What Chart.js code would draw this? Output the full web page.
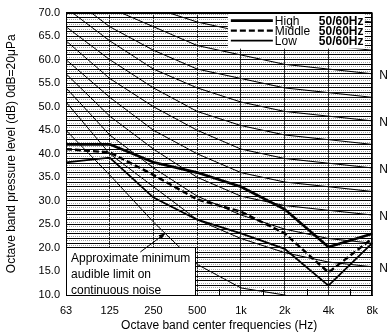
<!DOCTYPE html>
<html>
<head>
<meta charset="utf-8">
<script src="https://cdn.jsdelivr.net/npm/chart.js@4.4.0/dist/chart.umd.min.js"></script>
<style>
  html, body { margin: 0; padding: 0; background: #fff; }
</style>
</head>
<body>
<canvas id="ncChart" width="387" height="336"></canvas>
<script>
// octave band centres (x axis)
const freqLabels = ['63', '125', '250', '500', '1k', '2k', '4k', '8k'];
// NC reference curves
const ncNames = ['NC-20', 'NC-25', 'NC-30', 'NC-35', 'NC-40', 'NC-45', 'NC-50', 'NC-55', 'NC-60', 'NC-65', 'NC-70'];
const nc20 = [51, 40, 33, 26, 22, 19, 17, 16];
const nc25 = [54, 44, 37, 31, 27, 24, 22, 21];
const nc30 = [57, 48, 41, 35, 31, 29, 28, 27];
const nc35 = [60, 52, 45, 40, 36, 34, 33, 32];
const nc40 = [64, 56, 50, 45, 41, 39, 38, 37];
const nc45 = [67, 60, 54, 49, 46, 44, 43, 42];
const nc50 = [71, 64, 58, 54, 51, 49, 48, 47];
const nc55 = [74, 67, 62, 58, 56, 54, 53, 52];
const nc60 = [77, 71, 67, 63, 61, 59, 58, 57];
const nc65 = [80, 75, 71, 68, 66, 64, 63, 62];
const nc70 = [83, 79, 75, 72, 71, 70, 69, 68];
const ncLabelled = ['NC-20', 'NC-30', 'NC-40', 'NC-50', 'NC-60'];
// approximate minimum audible limit
const audibleLimit = [45, 35.5, 25.5, 16.5, 11.5, 10, 7, 9];
// measured fan levels
const seriesNames = ['High', 'Middle', 'Low'];
const seriesFreq = ['50/60Hz', '50/60Hz', '50/60Hz'];
const highLevel = [42, 42, 38.2, 36, 33, 28.2, 20.2, 23];
const middleLevel = [41, 40.3, 35.5, 30.3, 27.7, 23.1, 14.8, 22];
const lowLevel = [38.2, 39.2, 30.7, 26, 23.1, 19.8, 12, 21];
const noteLines = ['Approximate minimum', 'audible limit on', 'continuous noise'];

Chart.defaults.font.family = "'Liberation Sans', Arial, sans-serif";
Chart.defaults.color = '#000';

const ncCurves = [nc20, nc25, nc30, nc35, nc40, nc45, nc50, nc55, nc60, nc65, nc70];

var datasets = ncCurves.map((vals, i) => ({
  label: ncNames[i], data: vals, borderColor: '#000', borderWidth: 1, pointRadius: 0
}));
datasets.push({ label: 'audible', data: audibleLimit, borderColor: '#000', borderWidth: 1, pointRadius: 0 });
datasets.push({ label: seriesNames[0], data: highLevel, borderColor: '#000', borderWidth: 2.6, pointRadius: 0 });
datasets.push({ label: seriesNames[1], data: middleLevel, borderColor: '#000', borderWidth: 2.4, borderDash: [6, 3], pointRadius: 0 });
datasets.push({ label: seriesNames[2], data: lowLevel, borderColor: '#000', borderWidth: 1.8, pointRadius: 0 });

// extra drawing: legend box, note box, NC labels, frame
const decorations = {
  id: 'decorations',
  beforeDraw(chart) {
    const c = chart.ctx;
    c.save(); c.fillStyle = '#fff'; c.fillRect(0, 0, chart.width, chart.height); c.restore();
  },
  afterDatasetsDraw(chart) {
    const c = chart.ctx, a = chart.chartArea;
    const xs = chart.scales.x, ys = chart.scales.y;
    c.save();

    // minor ticks halfway between octaves
    c.strokeStyle = '#000'; c.lineWidth = 1;
    for (let i = 0; i < freqLabels.length - 1; i++) {
      const px = Math.round(xs.getPixelForValue(i + 0.5)) + 0.5;
      c.beginPath(); c.moveTo(px, a.bottom); c.lineTo(px, a.bottom - 6); c.stroke();
    }

    // NC labels on the right edge (mostly cut off by the canvas edge)
    c.font = '12px ' + Chart.defaults.font.family;
    c.fillStyle = '#000'; c.textBaseline = 'middle'; c.textAlign = 'left';
    ncNames.forEach((n, i) => {
      if (ncLabelled.indexOf(n) < 0) return;
      const v = ncCurves[i][ncCurves[i].length - 1];
      c.fillText(n, a.right + 7, ys.getPixelForValue(v) + 2);
    });

    // note box
    const bx = a.left, by = ys.getPixelForValue(20.2), bw = xs.getPixelForValue(2.95) - a.left;
    c.fillStyle = '#fff';
    c.fillRect(bx, by, bw, a.bottom - by);
    c.strokeStyle = '#000'; c.lineWidth = 1;
    c.strokeRect(Math.round(bx) + 0.5, Math.round(by) + 0.5, Math.round(bw), Math.round(a.bottom - by));
    c.fillStyle = '#000'; c.font = '12px ' + Chart.defaults.font.family;
    noteLines.forEach((t, i) => c.fillText(t, bx + 5, by + 12 + i * 16));
    // arrow to audible curve
    const tx = xs.getPixelForValue(2.27), ty = ys.getPixelForValue(23.1);
    const sx = xs.getPixelForValue(1.7), sy = by + 5;
    c.beginPath(); c.moveTo(sx, sy); c.lineTo(tx, ty); c.stroke();
    const ang = Math.atan2(ty - sy, tx - sx);
    c.beginPath();
    c.moveTo(tx, ty);
    c.lineTo(tx - 7 * Math.cos(ang - 0.35), ty - 7 * Math.sin(ang - 0.35));
    c.lineTo(tx - 7 * Math.cos(ang + 0.35), ty - 7 * Math.sin(ang + 0.35));
    c.closePath(); c.fill();

    // legend
    const lx = xs.getPixelForValue(3.7), ly = a.top + 1;
    c.fillStyle = '#fff';
    c.fillRect(lx, ly, 137, 35);
    c.fillStyle = '#000';
    const styles = [[2.6, []], [2.4, [6, 3]], [1.8, []]];
    seriesNames.forEach((n, i) => {
      const yy = ly + 7 + i * 10;
      c.lineWidth = styles[i][0]; c.setLineDash(styles[i][1]);
      c.beginPath(); c.moveTo(lx + 3, yy); c.lineTo(lx + 45, yy); c.stroke();
      c.setLineDash([]);
      c.font = '12px ' + Chart.defaults.font.family;
      c.fillText(n, lx + 47, yy + 1);
      c.font = 'bold 12px ' + Chart.defaults.font.family;
      c.fillText(seriesFreq[i], lx + 91, yy + 1);
    });

    // frame
    c.lineWidth = 1; c.strokeStyle = '#000';
    c.strokeRect(Math.round(a.left) + 0.5, Math.round(a.top) + 0.5, Math.round(a.right - a.left) - 1, Math.round(a.bottom - a.top));
    c.restore();
  }
};

var ncChart = new Chart(document.getElementById('ncChart').getContext('2d'), {
  type: 'line',
  data: { labels: freqLabels, datasets: datasets },
  plugins: [decorations],
  options: {
    responsive: false,
    animation: false,
    events: [],
    layout: { padding: { top: 8, right: 10, left: 0, bottom: 0 } },
    plugins: { legend: { display: false }, tooltip: { enabled: false } },
    elements: { line: { tension: 0 } },
    scales: {
      x: {
        type: 'category',
        offset: false,
        grid: { color: '#333', drawTicks: false, offset: false },
        border: { color: '#000' },
        ticks: { font: { size: 11 }, padding: 9, maxRotation: 0, autoSkip: false },
        title: { display: true, text: 'Octave band center frequencies (Hz)', font: { size: 12 }, padding: { top: 0, bottom: 3 } },
        afterFit: s => { s.height = 41; }
      },
      y: {
        min: 10,
        max: 70,
        grid: {
          drawTicks: false,
          color: c => (c.tick && c.tick.value % 1 === 0) ? '#000' : '#a0a0a0'
        },
        border: {
          color: '#000',
          dash: c => (c.tick && c.tick.value % 1 === 0) ? [] : [1, 1]
        },
        ticks: {
          stepSize: 0.5,
          autoSkip: false,
          font: { size: 11 },
          padding: 6,
          callback: v => (v % 5 === 0) ? v.toFixed(1) : ''
        },
        title: { display: true, text: 'Octave band pressure level (dB) 0dB=20μPa', font: { size: 12 }, padding: { top: 4, bottom: 0 } },
        afterFit: s => { s.width = 66; }
      }
    }
  }
});
</script>
</body>
</html>
